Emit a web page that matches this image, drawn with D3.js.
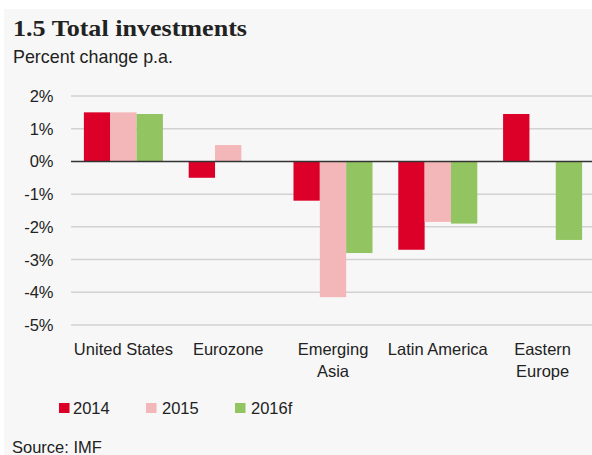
<!DOCTYPE html>
<html>
<head>
<meta charset="utf-8">
<script src="https://cdn.jsdelivr.net/npm/d3@7"></script>
<style>
body { margin:0; background:#fff; }
svg text { font-family:"Liberation Sans", Arial, sans-serif; fill:#222; }
</style>
</head>
<body>
<div id="container"></div>
<script>
var categories = ["United States","Eurozone","Emerging Asia","Latin America","Eastern Europe"];
var catLines = [["United States"],["Eurozone"],["Emerging","Asia"],["Latin America"],["Eastern","Europe"]];
var seriesNames = ["2014","2015","2016f"];
var v2014 = [1.5, -0.5, -1.2, -2.7, 1.45];
var v2015 = [1.5, 0.5, -4.15, -1.85, null];
var v2016 = [1.45, null, -2.8, -1.9, -2.4];
var colors = ["#dc0029","#f4b7b9","#93c462"];
var yTicks = [2,1,0,-1,-2,-3,-4,-5];

var series = [v2014, v2015, v2016];

var svg = d3.select("#container").append("svg")
			.attr("width",592)
			.attr("height",455);

svg.append("rect").attr("x",4).attr("y",9).attr("width",600).attr("height",460).attr("fill","#f7f7f7");

var x = d3.scaleBand().domain(categories).range([71,595]).paddingInner(0.246).paddingOuter(0.123);
var xs = d3.scaleBand().domain(seriesNames).range([0,x.bandwidth()]);
var y = d3.scaleLinear().domain([-5,2]).range([325,96]);

// title
svg.append("text").attr("x",13).attr("y",36)
	.style("font-family","'Liberation Serif', 'DejaVu Serif', serif")
	.style("font-weight","bold").style("font-size","24px").attr("fill","#111")
	.attr("textLength",234).attr("lengthAdjust","spacingAndGlyphs")
	.text("1.5 Total investments");
svg.append("text").attr("x",13).attr("y",63)
	.style("font-size","18.5px").attr("textLength",160).attr("lengthAdjust","spacingAndGlyphs")
	.text("Percent change p.a.");

// grid
svg.selectAll("line.grid").data(yTicks.filter(function(d){return d!=0;})).enter()
	.append("line").attr("class","grid")
	.attr("x1",71).attr("x2",592)
	.attr("y1",function(d){return y(d);}).attr("y2",function(d){return y(d);})
	.attr("stroke","#d2d2d2").attr("stroke-width",1.5);

svg.selectAll("text.ytick").data(yTicks).enter()
	.append("text").attr("class","ytick")
	.attr("x",53.5).attr("y",function(d){return y(d);}).attr("dy","0.36em")
	.attr("text-anchor","end").style("font-size","16.5px")
	.text(function(d){return d+"%";});

// bars
series.forEach(function(vals,si) {
	var pts = vals.map(function(v,i){return {cat:categories[i], v:v};})
				.filter(function(p){return p.v!=null;});
	svg.selectAll("rect.s"+si).data(pts).enter()
		.append("rect").attr("class","s"+si)
		.attr("x",function(p){return x(p.cat)+xs(seriesNames[si]);})
		.attr("width",xs.bandwidth())
		.attr("y",function(p){return y(Math.max(0,p.v));})
		.attr("height",function(p){return Math.abs(y(p.v)-y(0));})
		.attr("fill",colors[si]);
});

// zero line
svg.append("line").attr("x1",71).attr("x2",592).attr("y1",y(0)).attr("y2",y(0))
	.attr("stroke","#333").attr("stroke-width",1.5);

// category labels
var cat = svg.selectAll("text.cat").data(categories).enter()
	.append("text").attr("class","cat")
	.attr("text-anchor","middle").style("font-size","16.5px")
	.attr("transform",function(d){return "translate("+(x(d)+x.bandwidth()/2)+",355)";});
cat.each(function(d,i) {
	var t = d3.select(this);
	catLines[i].forEach(function(l,li) {
		t.append("tspan").attr("x",0).attr("y",li*22).text(l);
	});
});

// legend
var legX = [59,146,235];
var leg = svg.selectAll("g.leg").data(seriesNames).enter().append("g")
	.attr("transform",function(d,i){return "translate("+legX[i]+",403)";});
leg.append("rect").attr("width",10.5).attr("height",10).attr("fill",function(d,i){return colors[i];});
leg.append("text").attr("x",function(d,i){return i==0?14:16;}).attr("y",11).style("font-size","16.5px").text(function(d){return d;});

svg.append("text").attr("x",12).attr("y",453).style("font-size","16.5px").text("Source: IMF");
</script>
</body>
</html>
